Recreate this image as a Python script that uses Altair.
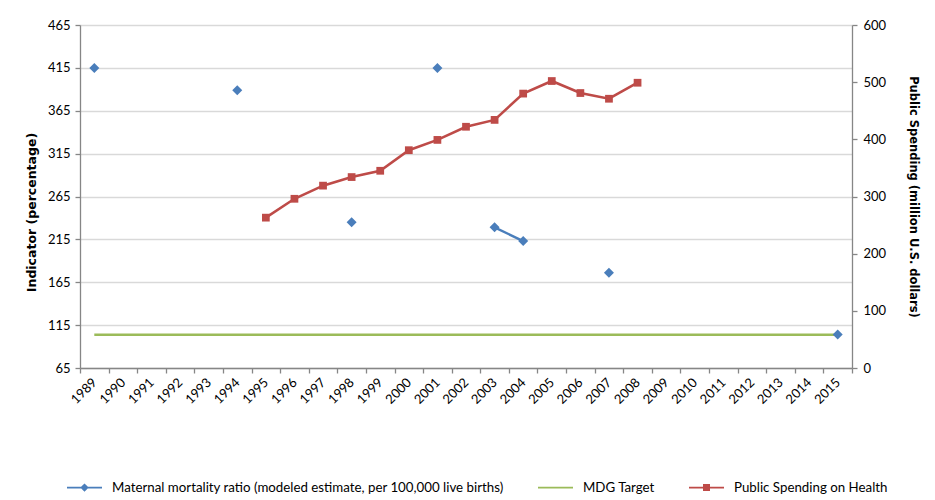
import altair as alt
import pandas as pd

# ---------------- data ----------------
years = [str(y) for y in range(1989, 2016)]

mmr_years = ["1989", "1994", "1998", "2001", "2003", "2004", "2007", "2015"]
mmr_values = [415, 389, 235, 415, 229, 213, 176, 104]

mdg_value = 103.75

spend_years = [str(y) for y in range(1995, 2009)]
spend_values = [263, 296, 319, 334, 345, 381, 399, 422, 434, 480, 502, 481, 471, 499]

series_names = [
    "Maternal mortality ratio (modeled estimate, per 100,000 live births)",
    "MDG Target",
    "Public Spending on Health",
]
series_colors = ["#4A7EBB", "#9BBB59", "#BE4B48"]

left_ticks = list(range(65, 466, 50))
right_ticks = list(range(0, 601, 100))

# ---------------- tables ----------------
mmr_df = pd.DataFrame({"year": mmr_years, "value": mmr_values})
idx = [years.index(y) for y in mmr_years]
grp, g = [], 0
for i, v in enumerate(idx):
    if i > 0 and v - idx[i - 1] > 1:
        g += 1
    grp.append(g)
mmr_df["seg"] = grp

mdg_df = pd.DataFrame({"year": years, "value": [mdg_value] * len(years)})
spend_df = pd.DataFrame({"year": spend_years, "value": spend_values})
legend_df = pd.DataFrame({"series": series_names})

FONT = "Lato"
TITLE_FONT = "DejaVu Sans"
GRID = "#D9D9D9"
AXIS = "#868686"

x_enc = alt.X(
    "year:O",
    bandPosition=0.5,
    scale=alt.Scale(type="band", domain=years, paddingInner=0, paddingOuter=0),
    axis=alt.Axis(
        title=None,
        labelAngle=-45,
        labelAlign="right",
        labelBaseline="middle",
        labelPadding=7,
        labelFontSize=13,
        tickBand="extent",
        tickSize=5,
        grid=False,
        domainColor=AXIS,
        tickColor=AXIS,
        labelColor="#000000",
    ),
)

y_left = alt.Y(
    "value:Q",
    scale=alt.Scale(domain=[65, 465], nice=False, zero=False),
    axis=alt.Axis(
        values=left_ticks,
        title="Indicator (percentage)",
        orient="left",
        grid=True,
        gridColor=GRID,
        gridWidth=1.3,
        tickSize=5,
        labelPadding=5,
        labelFontSize=13,
        titleFont=TITLE_FONT,
        titleFontSize=12.5,
        titleFontWeight="bold",
        titlePadding=9,
        titleY=187,
        domainColor=AXIS,
        tickColor=AXIS,
        labelColor="#000000",
        titleColor="#000000",
    ),
)

y_right = alt.Y(
    "value:Q",
    scale=alt.Scale(domain=[0, 600], nice=False, zero=True),
    axis=alt.Axis(
        values=right_ticks,
        title="Public Spending (million U.S. dollars)",
        orient="right",
        grid=False,
        tickSize=5,
        labelPadding=6,
        labelFontSize=13,
        titleFont=TITLE_FONT,
        titleFontSize=11.5,
        titleFontWeight="bold",
        titlePadding=22,
        domainColor=AXIS,
        tickColor=AXIS,
        labelColor="#000000",
        titleColor="#000000",
    ),
)

mdg_line = alt.Chart(mdg_df).mark_line(color=series_colors[1], strokeWidth=2.6).encode(
    x=x_enc, y=y_left
)
mmr_line = alt.Chart(mmr_df).mark_line(color=series_colors[0], strokeWidth=2.4).encode(
    x=x_enc, y=y_left, detail="seg:N"
)
mmr_pts = alt.Chart(mmr_df).mark_point(
    shape="diamond", filled=True, size=100, color=series_colors[0], opacity=1
).encode(x=x_enc, y=y_left)

left = alt.layer(mdg_line, mmr_line, mmr_pts)

spend_line = alt.Chart(spend_df).mark_line(color=series_colors[2], strokeWidth=2.6).encode(
    x=x_enc, y=y_right
)
spend_pts = alt.Chart(spend_df).mark_point(
    shape="square", filled=True, size=60, color=series_colors[2], opacity=1
).encode(x=x_enc, y=y_right)

right = alt.layer(spend_line, spend_pts)

legend_shapes = [
    "M-1,-0.045H1V0.045H-1Z M-0.24,0L0,-0.24L0.24,0L0,0.24Z",
    "M-1,-0.045H1V0.045H-1Z",
    "M-1,-0.045H1V0.045H-1Z M-0.2,-0.2H0.2V0.2H-0.2Z",
]

leg = dict(
    title=None,
    orient="none",
    direction="horizontal",
    legendX=-13,
    legendY=445,
    symbolSize=1225,
    symbolStrokeWidth=0,
    labelFontSize=13.3,
    labelLimit=1000,
    labelOffset=10,
    columnPadding=34,
    labelColor="#000000",
)

legend_layer = (
    alt.Chart(legend_df)
    .mark_point(filled=True, opacity=1)
    .encode(
        color=alt.Color(
            "series:N",
            scale=alt.Scale(domain=series_names, range=series_colors),
            legend=alt.Legend(**leg),
        ),
        shape=alt.Shape(
            "series:N",
            scale=alt.Scale(domain=series_names, range=legend_shapes),
            legend=alt.Legend(**leg),
        ),
    )
    .transform_filter("false")
)

chart = (
    alt.layer(left, right, legend_layer)
    .resolve_scale(y="independent")
    .properties(
        width=772,
        height=343,
        autosize=alt.AutoSizeParams(type="none"),
        padding={"left": 72, "top": 17, "right": 75, "bottom": 130},
    )
    .configure(font=FONT)
    .configure_view(stroke=None)
    .configure_axis(domainWidth=1.3, tickWidth=1.3)
)

chart.save("out.html", embed_options={"renderer": "svg", "actions": False})
